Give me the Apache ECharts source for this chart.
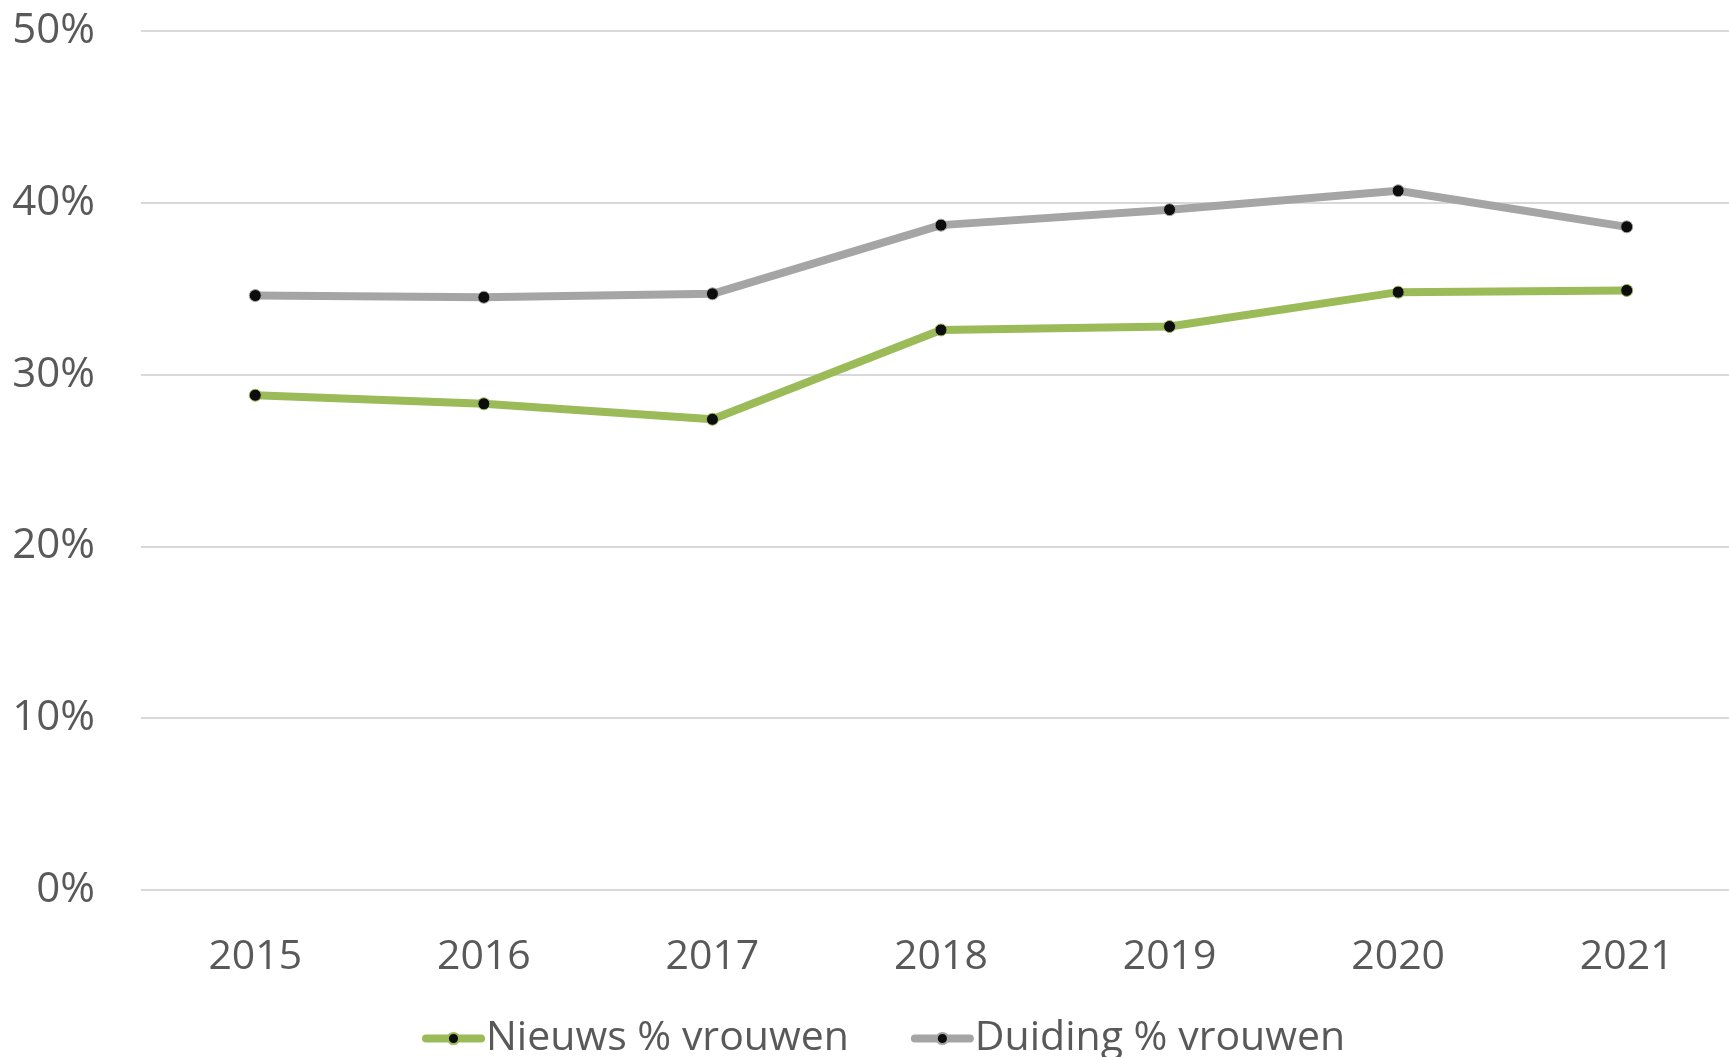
<!DOCTYPE html>
<html>
<head>
<meta charset="utf-8">
<script src="https://cdn.jsdelivr.net/npm/echarts@6/dist/echarts.min.js"></script>
<style>
html,body{margin:0;padding:0;background:#fff;overflow:hidden;width:1729px;height:1057px;}
#chart{width:1741px;height:1057px;}
</style>
</head>
<body>
<div id="chart"></div>
<script>
const categories = ['2015','2016','2017','2018','2019','2020','2021'];
const nieuwsValues = [28.8, 28.3, 27.4, 32.6, 32.8, 34.8, 34.9];
const duidingValues = [34.6, 34.5, 34.7, 38.7, 39.6, 40.7, 38.6];
const seriesNames = ['Nieuws % vrouwen', 'Duiding % vrouwen'];
const yTicks = { min: 0, max: 50, interval: 10 };

const FONT = '"Open Sans", "DejaVu Sans", sans-serif';
const TEXT = '#595959';
const GREEN = '#9bbb59';
const GRAY = '#a5a5a5';

const chart = echarts.init(document.getElementById('chart'), null, {renderer: 'canvas'});

function mkSeries(name, data, color) {
  return {
    name: name,
    type: 'line',
    data: data,
    symbol: 'circle',
    symbolSize: 12,
    showSymbol: true,
    lineStyle: { color: color, width: 8, cap: 'round', join: 'round' },
    itemStyle: { color: '#0d0d0d', borderColor: color, borderWidth: 1 },
    emphasis: { disabled: true },
    animation: false
  };
}

chart.setOption({
  animation: false,
  backgroundColor: '#ffffff',
  textStyle: { fontFamily: FONT, color: TEXT },
  grid: { left: 141, top: 31, right: 0, bottom: 167, containLabel: false },
  legend: {
    data: seriesNames,
    left: 417,
    top: 1013,
    itemWidth: 55,
    itemHeight: 14,
    itemGap: 62,
    lineStyle: { width: 8, cap: 'round' },
    textStyle: { fontFamily: FONT, fontSize: 41, color: TEXT, padding: [0,0,0,0] }
  },
  xAxis: {
    type: 'category',
    data: categories,
    boundaryGap: true,
    axisLine: { show: false },
    axisTick: { show: false },
    axisLabel: { fontFamily: FONT, fontSize: 41, color: TEXT, margin: 47, lineHeight: 41 },
    splitLine: { show: false }
  },
  yAxis: {
    type: 'value',
    min: yTicks.min,
    max: yTicks.max,
    interval: yTicks.interval,
    axisLine: { show: false },
    axisTick: { show: false },
    axisLabel: { fontFamily: FONT, fontSize: 42, color: TEXT, margin: 46, formatter: '{value}%' },
    splitLine: { show: true, lineStyle: { color: '#d9d9d9', width: 2 } }
  },
  series: [
    mkSeries(seriesNames[0], nieuwsValues, GREEN),
    mkSeries(seriesNames[1], duidingValues, GRAY)
  ]
});
</script>
</body>
</html>
